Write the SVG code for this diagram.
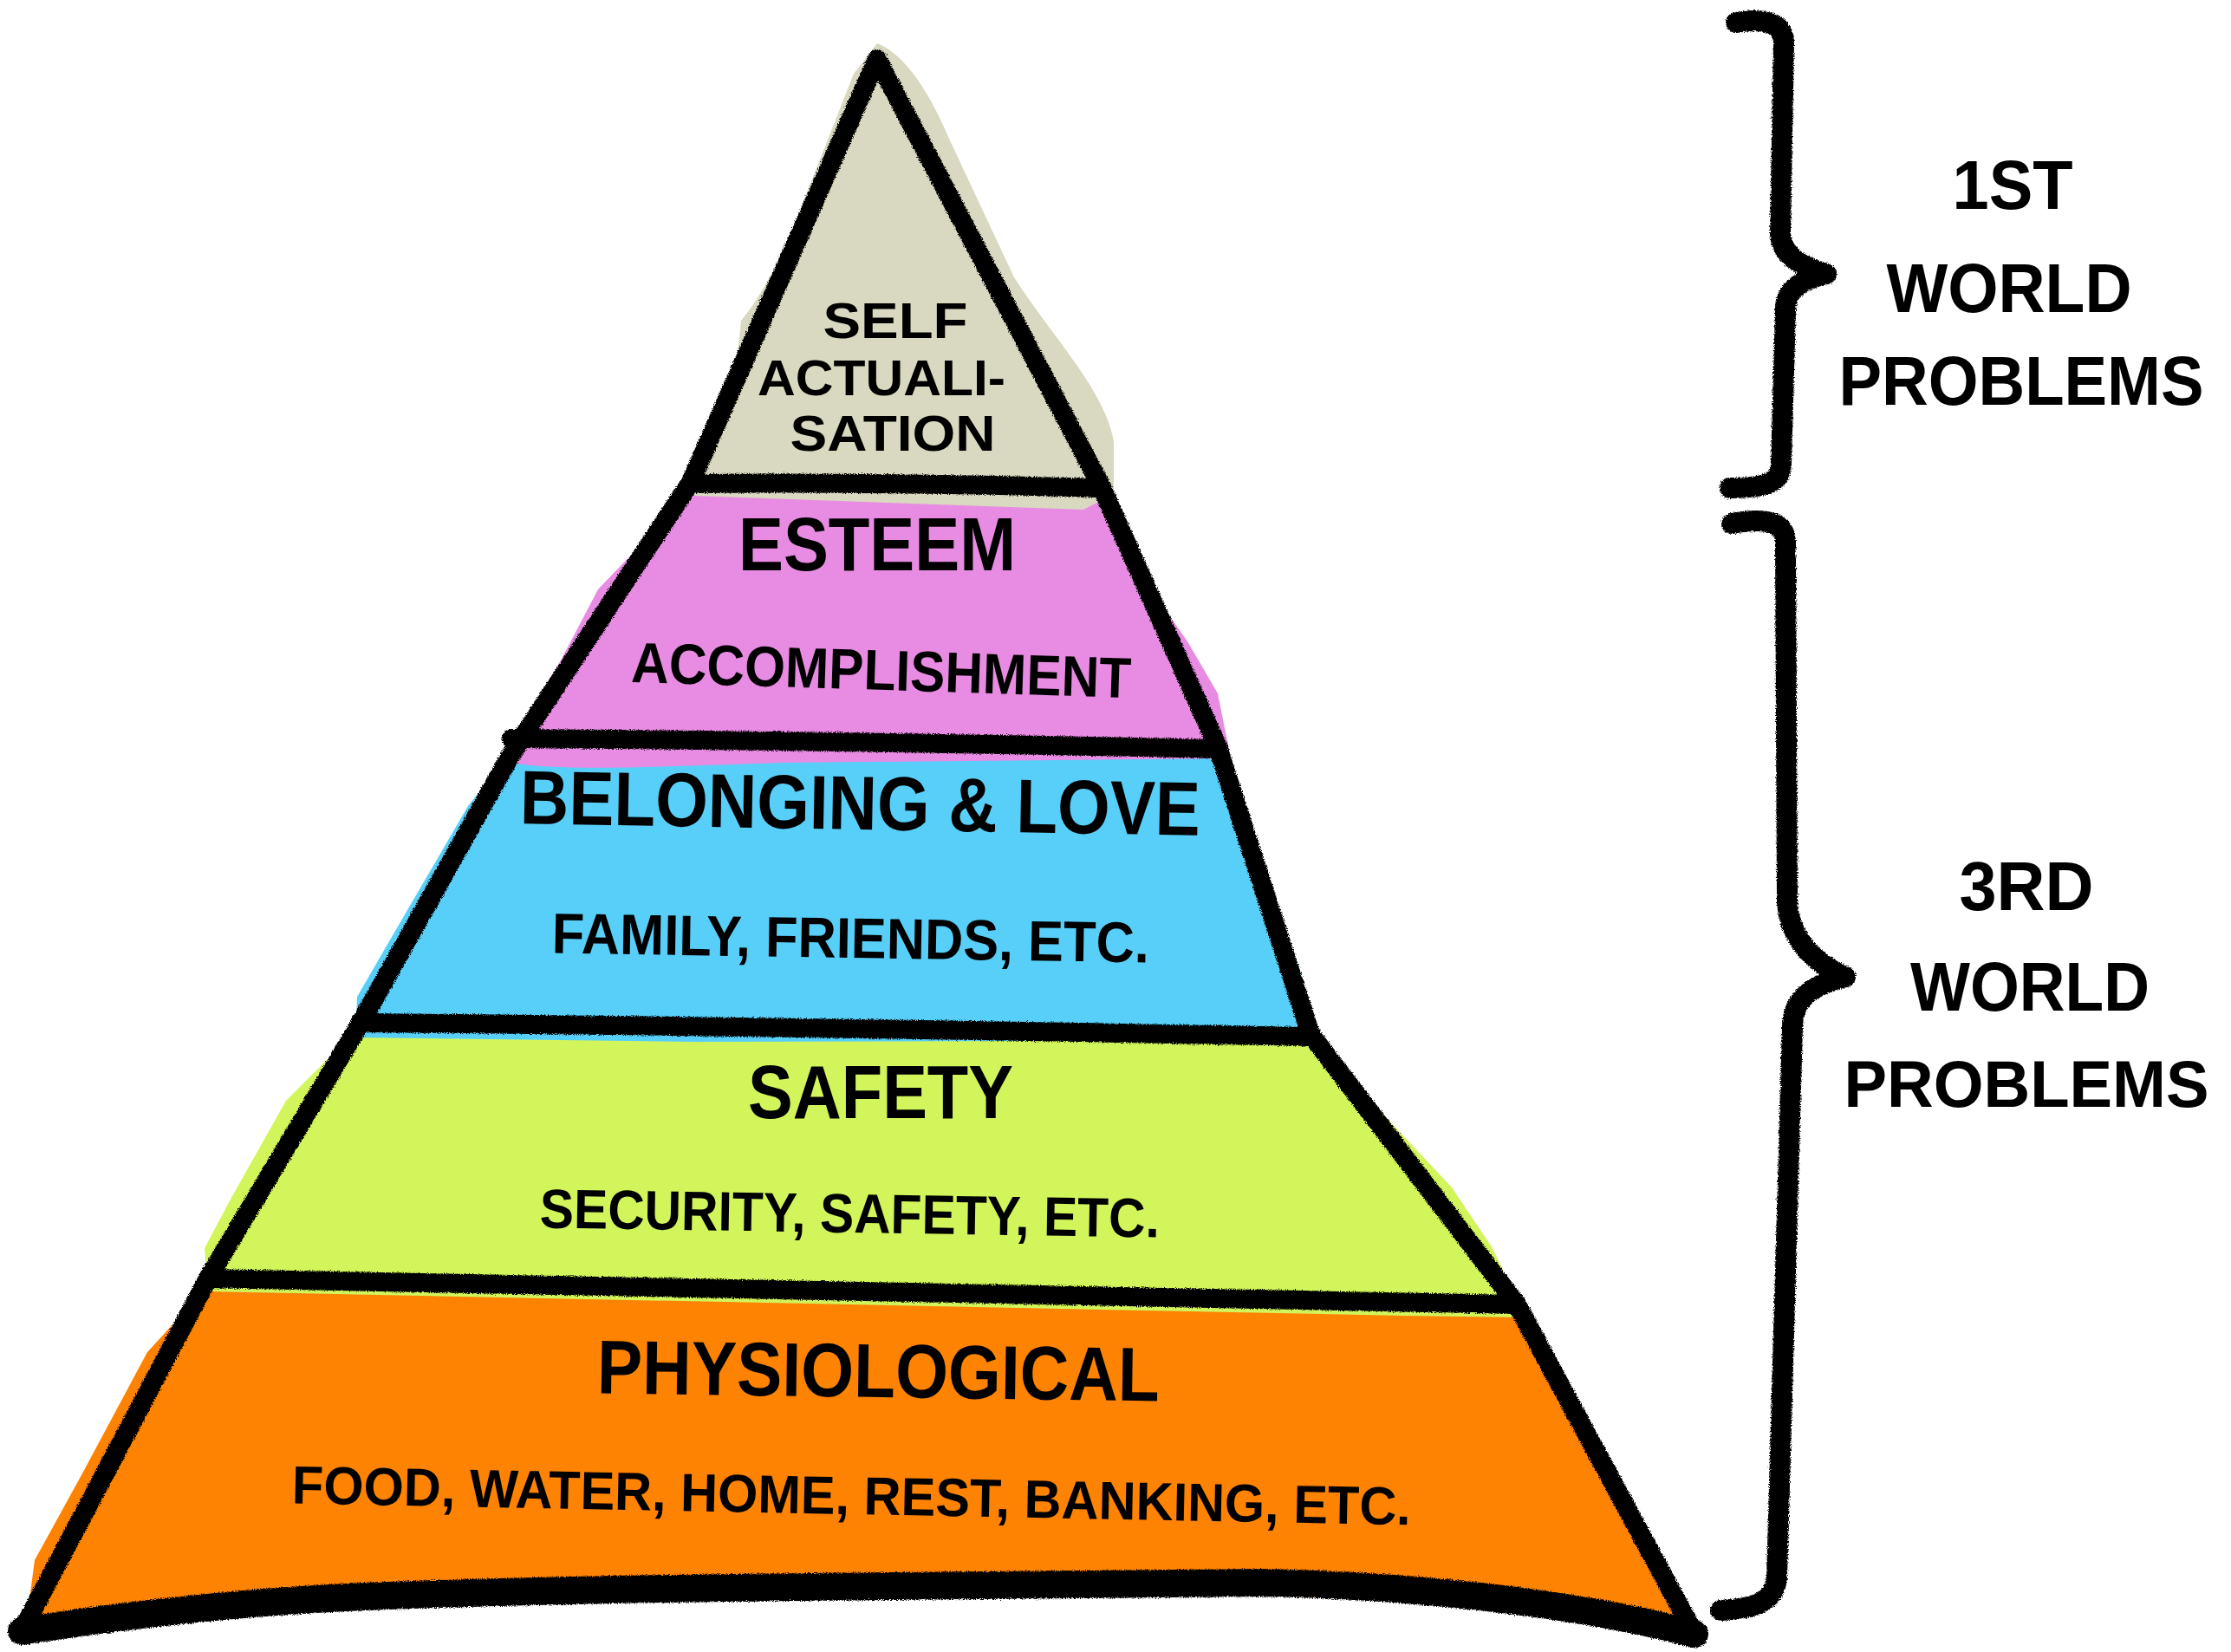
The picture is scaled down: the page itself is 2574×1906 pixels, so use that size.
<svg xmlns="http://www.w3.org/2000/svg" width="2574" height="1906" viewBox="0 0 2574 1906">
  <defs>
    <filter id="rough" filterUnits="userSpaceOnUse" x="0" y="0" width="2574" height="1906">
      <feTurbulence type="fractalNoise" baseFrequency="0.9" numOctaves="2" seed="3" result="n"/>
      <feDisplacementMap in="SourceGraphic" in2="n" scale="5" xChannelSelector="R" yChannelSelector="G"/>
    </filter>
  </defs>
  <style>
    .ink { fill: none; stroke: #000; stroke-width: 22; stroke-linejoin: round; stroke-linecap: round; }
    .brace { fill: none; stroke: #000; stroke-width: 24; stroke-linejoin: round; stroke-linecap: round; }
    .t { font-family: "Liberation Sans", "DejaVu Sans", sans-serif; font-weight: bold; fill: #000; text-anchor: middle; }
    .big { font-size: 88px; }
    .sm { font-size: 64px; }
    .side { font-size: 80px; }
  </style>
  <rect width="2574" height="1906" fill="#fff"/>

  <!-- layer fills (bottom to top so bleeds overlap like the reference) -->
  <g id="fills">
    <path id="fill-physio" fill="#FE8302" d="M245,1478 L1750,1500 L1830,1650 L1962,1886 L1700,1850 C1500,1835 800,1835 400,1850 L28,1890 L40,1800 L95,1700 L170,1560 Z"/>
    <path id="fill-safety" fill="#D2F55B" d="M420,1185 L1515,1198 L1600,1290 L1675,1370 L1722,1440 L1760,1520 L1620,1518 L240,1490 L236,1440 L268,1380 L330,1270 L400,1200 Z"/>
    <path id="fill-belonging" fill="#58CFF8" d="M600,866 C800,860 1100,858 1405,868 L1440,990 L1478,1060 L1500,1120 L1515,1200 L800,1202 L410,1197 L412,1150 L470,1050 L540,930 L578,882 Z"/>
    <path id="fill-esteem" fill="#E88CE3" d="M800,565 L1268,570 L1300,640 L1370,740 L1405,800 L1420,875 L900,880 C750,885 650,890 590,880 L600,840 L648,760 L690,680 Z"/>
    <path id="fill-self" fill="#D9D8C0" d="M1012,50 C1040,60 1070,100 1095,160 L1170,320 C1215,390 1275,450 1285,510 L1285,570 L1250,588 L800,572 L805,540 C830,500 842,460 850,420 L855,370 C880,340 905,290 920,250 L985,85 Z"/>
  </g>

  <!-- outlines -->
  <g id="outlines" filter="url(#rough)">
    <path class="ink" d="M1012,68 L1270,560 L1405,862 L1512,1193 L1750,1505 L1955,1885 C1800,1845 1600,1828 1450,1826 C1100,1830 700,1830 400,1843 C250,1850 100,1870 25,1882 L240,1475 L415,1182 L590,870 L797,556 Z"/>
    <path class="ink" style="stroke-width:32" d="M1955,1885 C1800,1845 1600,1828 1450,1826 C1100,1830 700,1830 400,1843 C250,1850 100,1870 25,1882"/>
    <path class="ink" d="M797,558 Q1030,556 1270,563"/>
    <path class="ink" d="M590,852 Q1000,855 1405,864"/>
    <path class="ink" d="M415,1180 Q960,1185 1512,1196"/>
    <path class="ink" d="M240,1475 Q1000,1488 1750,1505"/>
  </g>

  <g id="node-self">
    <text class="t" x="1033" y="390" font-size="58" textLength="167" lengthAdjust="spacingAndGlyphs">SELF</text>
    <text class="t" x="1017" y="456" font-size="58" textLength="286" lengthAdjust="spacingAndGlyphs">ACTUALI-</text>
    <text class="t" x="1030" y="520" font-size="58" textLength="237" lengthAdjust="spacingAndGlyphs">SATION</text>
  </g>

  <g id="node-esteem">
    <text class="t big" x="1012" y="658" textLength="320" lengthAdjust="spacingAndGlyphs">ESTEEM</text>
    <text class="t" x="1016" y="796" font-size="66" textLength="577" lengthAdjust="spacingAndGlyphs" transform="rotate(1.8 1016 796)">ACCOMPLISHMENT</text>
  </g>

  <g id="node-belonging">
    <text class="t big" x="992" y="957" textLength="785" lengthAdjust="spacingAndGlyphs" transform="rotate(1 992 957)">BELONGING &amp; LOVE</text>
    <text class="t" x="981" y="1105" font-size="66" textLength="689" lengthAdjust="spacingAndGlyphs" transform="rotate(0.9 981 1105)">FAMILY, FRIENDS, ETC.</text>
  </g>

  <g id="node-safety">
    <text class="t big" x="1016" y="1290" textLength="306" lengthAdjust="spacingAndGlyphs">SAFETY</text>
    <text class="t sm" x="980" y="1422" textLength="715" lengthAdjust="spacingAndGlyphs" transform="rotate(0.9 980 1422)">SECURITY, SAFETY, ETC.</text>
  </g>

  <g id="node-physio">
    <text class="t big" x="1013" y="1612" textLength="649" lengthAdjust="spacingAndGlyphs" transform="rotate(0.8 1013 1612)">PHYSIOLOGICAL</text>
    <text class="t" x="982" y="1747" font-size="62" textLength="1291" lengthAdjust="spacingAndGlyphs" transform="rotate(1.1 982 1747)">FOOD, WATER, HOME, REST, BANKING, ETC.</text>
  </g>

  <g id="connectors" filter="url(#rough)">
    <path id="brace-1st" class="brace" d="M2003,26 C2040,20 2058,28 2058,50 L2054,270 C2056,296 2080,308 2107,316 C2080,322 2060,334 2060,356 L2055,535 C2055,556 2040,563 1996,563"/>
    <path id="brace-3rd" class="brace" d="M1998,604 C2040,596 2060,604 2060,625 L2062,1040 C2064,1080 2090,1110 2129,1127 C2095,1135 2068,1150 2068,1185 L2050,1820 C2048,1845 2030,1856 1985,1858"/>
  </g>

  <g id="node-1st">
    <text class="t side" x="2322" y="241" textLength="139" lengthAdjust="spacingAndGlyphs">1ST</text>
    <text class="t side" x="2318" y="360" textLength="283" lengthAdjust="spacingAndGlyphs">WORLD</text>
    <text class="t side" x="2332" y="467" textLength="421" lengthAdjust="spacingAndGlyphs">PROBLEMS</text>
  </g>

  <g id="node-3rd">
    <text class="t side" x="2338" y="1050" textLength="155" lengthAdjust="spacingAndGlyphs">3RD</text>
    <text class="t side" x="2342" y="1166" textLength="276" lengthAdjust="spacingAndGlyphs">WORLD</text>
    <text class="t" x="2338" y="1277" font-size="76" textLength="421" lengthAdjust="spacingAndGlyphs">PROBLEMS</text>
  </g>
</svg>
